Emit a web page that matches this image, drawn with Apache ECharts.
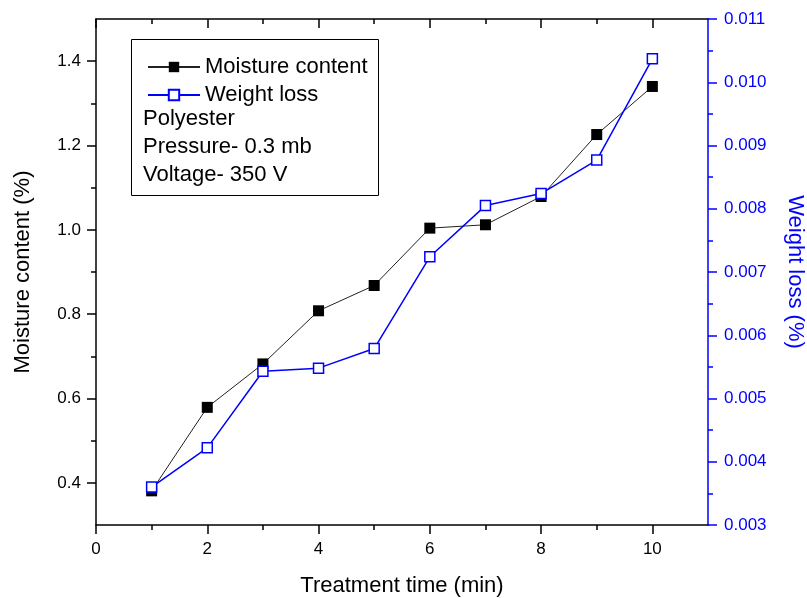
<!DOCTYPE html>
<html>
<head>
<meta charset="utf-8">
<script src="https://cdn.jsdelivr.net/npm/echarts@6/dist/echarts.min.js"></script>
<style>
  html, body { margin: 0; padding: 0; background: #fff; }
  #main { width: 807px; height: 598px; }
</style>
</head>
<body>
<div id="main"></div>
<script>
var treatmentTime = [1, 2, 3, 4, 5, 6, 7, 8, 9, 10];
var moistureContent = [0.381, 0.579, 0.682, 0.808, 0.868, 1.004, 1.012, 1.079, 1.226, 1.340];
var weightLoss = [0.00360, 0.00422, 0.00543, 0.00548, 0.00579, 0.00724, 0.00805, 0.00824, 0.00877, 0.01037];

var timeTicks = [0, 2, 4, 6, 8, 10];
var timeMinor = [1, 3, 5, 7, 9];
var moistureTicks = [0.4, 0.6, 0.8, 1.0, 1.2, 1.4];
var moistureMinor = [0.5, 0.7, 0.9, 1.1, 1.3];
var weightTicks = [0.003, 0.004, 0.005, 0.006, 0.007, 0.008, 0.009, 0.010, 0.011];

var font = 'Liberation Sans, Arial, sans-serif';
var blue = '#0000ff';
var black = { color: '#000', width: 1.5 };

function pairs(xs, ys) {
    return xs.map(function (x, i) { return [x, ys[i]]; });
}

// second grid on top of the first only carries the short (minor) ticks
var rect = { left: 96, right: 99, top: 19, bottom: 73, outerBoundsMode: 'none' };

var myChart = echarts.init(document.getElementById('main'));

var option = {
    animation: false,
    textStyle: { fontFamily: font },
    grid: [rect, Object.assign({}, rect)],
    legend: {
        orient: 'vertical',
        left: 142,
        top: 51,
        itemWidth: 52,
        itemHeight: 13,
        itemGap: 6,
        textStyle: { fontSize: 22, color: '#000', fontFamily: font },
        data: ['Moisture content', 'Weight loss']
    },
    graphic: [
        { type: 'rect', shape: { x: 131.5, y: 39.5, width: 247, height: 156 },
          style: { fill: 'none', stroke: '#000', lineWidth: 1 }, z: 100 },
        { type: 'text', x: 143, y: 119, style: { text: 'Polyester', font: '22px ' + font, fill: '#000', verticalAlign: 'middle' }, z: 100 },
        { type: 'text', x: 143, y: 147, style: { text: 'Pressure- 0.3 mb', font: '22px ' + font, fill: '#000', verticalAlign: 'middle' }, z: 100 },
        { type: 'text', x: 143, y: 175, style: { text: 'Voltage- 350 V', font: '22px ' + font, fill: '#000', verticalAlign: 'middle' }, z: 100 }
    ],
    xAxis: [
        {
            gridIndex: 0, type: 'value', position: 'bottom', min: 0, max: 11, interval: 1,
            name: 'Treatment time (min)', nameLocation: 'middle', nameGap: 50,
            nameTextStyle: { fontSize: 22, color: '#000', fontFamily: font },
            axisLine: { onZero: false, lineStyle: black },
            axisTick: { customValues: timeTicks, length: 9, lineStyle: black },
            axisLabel: { customValues: timeTicks, fontSize: 17, color: '#000', margin: 16 },
            splitLine: { show: false }
        },
        {
            gridIndex: 0, type: 'value', position: 'top', min: 0, max: 11, interval: 1,
            axisLine: { onZero: false, lineStyle: black },
            axisTick: { customValues: timeTicks, inside: true, length: 9, lineStyle: black },
            axisLabel: { show: false },
            splitLine: { show: false }
        },
        {
            gridIndex: 1, type: 'value', position: 'bottom', min: 0, max: 11, interval: 1,
            axisLine: { show: false, onZero: false },
            axisTick: { customValues: timeMinor, length: 5, lineStyle: black },
            axisLabel: { show: false },
            splitLine: { show: false }
        },
        {
            gridIndex: 1, type: 'value', position: 'top', min: 0, max: 11, interval: 1,
            axisLine: { show: false, onZero: false },
            axisTick: { customValues: timeMinor, inside: true, length: 5, lineStyle: black },
            axisLabel: { show: false },
            splitLine: { show: false }
        }
    ],
    yAxis: [
        {
            gridIndex: 0, type: 'value', position: 'left', min: 0.3, max: 1.5, interval: 0.1,
            name: 'Moisture content (%)', nameLocation: 'middle', nameGap: 62,
            nameTextStyle: { fontSize: 22, color: '#000', fontFamily: font },
            axisLine: { onZero: false, lineStyle: black },
            axisTick: { customValues: moistureTicks, length: 9, lineStyle: black },
            axisLabel: { customValues: moistureTicks, fontSize: 17, color: '#000', margin: 15,
                formatter: function (v) { return v.toFixed(1); } },
            splitLine: { show: false }
        },
        {
            gridIndex: 0, type: 'value', position: 'right', min: 0.003, max: 0.011, interval: 0.001,
            name: 'Weight loss (%)', nameLocation: 'middle', nameGap: 76, nameRotate: -90,
            nameTextStyle: { fontSize: 22, color: blue, fontFamily: font },
            axisLine: { onZero: false, lineStyle: { color: blue, width: 1.5 } },
            axisTick: { inside: false, length: 9, lineStyle: { color: blue, width: 1.5 } },
            minorTick: { show: true, splitNumber: 2, length: 5, lineStyle: { color: blue, width: 1.5 } },
            axisLabel: { customValues: weightTicks, fontSize: 17, color: blue, margin: 16,
                formatter: function (v) { return v.toFixed(3); } },
            splitLine: { show: false },
            minorSplitLine: { show: false }
        },
        {
            gridIndex: 1, type: 'value', position: 'left', min: 0.3, max: 1.5, interval: 0.1,
            axisLine: { show: false, onZero: false },
            axisTick: { customValues: moistureMinor, length: 5, lineStyle: black },
            axisLabel: { show: false },
            splitLine: { show: false }
        }
    ],
    series: [
        {
            name: 'Moisture content',
            type: 'line',
            xAxisIndex: 0,
            yAxisIndex: 0,
            data: pairs(treatmentTime, moistureContent),
            symbol: 'rect',
            symbolSize: 11,
            lineStyle: { color: '#222', width: 1 },
            itemStyle: { color: '#000', borderColor: '#000', borderWidth: 0 },
            emphasis: { disabled: true }
        },
        {
            name: 'Weight loss',
            type: 'line',
            xAxisIndex: 0,
            yAxisIndex: 1,
            data: pairs(treatmentTime, weightLoss),
            symbol: 'rect',
            symbolSize: 10,
            lineStyle: { color: blue, width: 1.5 },
            itemStyle: { color: '#fff', borderColor: blue, borderWidth: 1.5 },
            emphasis: { disabled: true }
        }
    ]
};
myChart.setOption(option);
</script>
</body>
</html>
